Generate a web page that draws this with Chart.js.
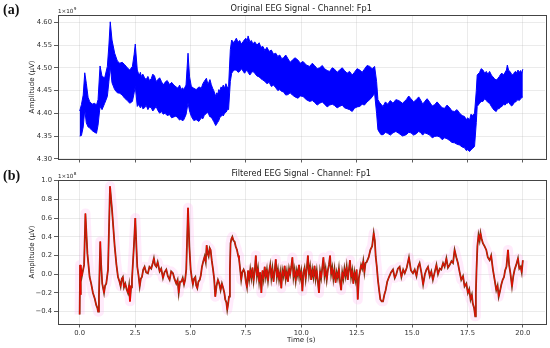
<!DOCTYPE html>
<html>
<head>
<meta charset="utf-8">
<script src="https://cdn.jsdelivr.net/npm/chart.js@4.4.0/dist/chart.umd.min.js"></script>
<style>
  body { margin:0; background:#fff; width:550px; height:348px; overflow:hidden; position:relative; }
  canvas { position:absolute; left:0; }
  .tag { position:absolute; left:3px; font-family:"Liberation Serif"; font-weight:bold; font-size:14px; line-height:14px; color:#111; }
</style>
</head>
<body>
<canvas id="rawChart" width="550" height="170" style="top:0"></canvas>
<canvas id="filtChart" width="550" height="188" style="top:160px"></canvas>
<div class="tag" style="top:3px">(a)</div>
<div class="tag" style="top:169px">(b)</div>
<script>
// shared time ticks
const xTicks = [0, 2.5, 5, 7.5, 10, 12.5, 15, 17.5, 20];
const rawYTicks = [4.30, 4.35, 4.40, 4.45, 4.50, 4.55, 4.60];
const filtYTicks = [-0.4, -0.2, 0.0, 0.2, 0.4, 0.6, 0.8, 1.0];

// original signal, upper / lower envelope (x1e9 uV)
const tRaw = [0.00,0.08,0.16,0.23,0.30,0.38,0.45,0.56,0.68,0.76,
  0.83,0.92,1.01,1.13,1.25,1.32,1.38,1.46,1.58,1.70,
  1.81,1.92,2.03,2.15,2.26,2.38,2.46,2.51,2.60,2.65,
  2.70,2.74,2.78,2.85,2.93,3.00,3.08,3.15,3.23,3.30,
  3.38,3.45,3.53,3.61,3.69,3.77,3.85,3.95,4.06,4.15,
  4.25,4.35,4.44,4.51,4.58,4.64,4.70,4.80,4.89,4.96,
  5.04,5.15,5.26,5.38,5.49,5.56,5.62,5.72,5.78,5.83,
  5.88,5.94,6.00,6.05,6.14,6.18,6.23,6.28,6.32,6.38,
  6.43,6.48,6.54,6.60,6.64,6.68,6.72,6.80,6.86,6.96,
  7.07,7.15,7.22,7.30,7.37,7.44,7.50,7.56,7.60,7.68,
  7.75,7.82,7.90,8.00,8.10,8.18,8.27,8.36,8.45,8.55,
  8.65,8.75,8.85,8.94,9.03,9.12,9.20,9.30,9.40,9.50,
  9.60,9.72,9.85,9.96,10.08,10.23,10.38,10.50,10.60,10.72,
  10.83,10.95,11.05,11.17,11.28,11.40,11.50,11.62,11.73,11.85,
  11.95,12.07,12.18,12.30,12.40,12.52,12.64,12.75,12.85,12.97,
  13.09,13.20,13.31,13.40,13.46,13.53,13.60,13.69,13.80,13.90,
  14.02,14.14,14.27,14.40,14.57,14.74,14.85,14.95,15.07,15.19,
  15.30,15.40,15.48,15.57,15.68,15.80,15.91,16.02,16.13,16.25,
  16.36,16.47,16.58,16.70,16.80,16.92,17.03,17.15,17.26,17.37,
  17.45,17.50,17.60,17.66,17.72,17.82,17.90,17.94,18.05,18.12,
  18.20,18.28,18.35,18.42,18.50,18.58,18.65,18.72,18.80,18.86,
  18.93,19.00,19.06,19.13,19.20,19.26,19.30,19.36,19.42,19.49,
  19.56,19.62,19.68,19.73,19.78,19.84,19.90,19.95,20.00];
const rawHi = [4.405,4.419,4.440,4.489,4.466,4.435,4.426,4.420,4.422,4.418,
  4.430,4.504,4.481,4.478,4.503,4.550,4.601,4.561,4.532,4.515,
  4.510,4.512,4.507,4.500,4.495,4.503,4.530,4.552,4.495,4.488,
  4.484,4.490,4.481,4.486,4.478,4.474,4.481,4.472,4.476,4.486,
  4.482,4.470,4.474,4.478,4.470,4.462,4.468,4.472,4.463,4.468,
  4.462,4.458,4.455,4.462,4.452,4.456,4.452,4.462,4.532,4.480,
  4.459,4.455,4.452,4.458,4.455,4.465,4.470,4.477,4.465,4.468,
  4.474,4.463,4.455,4.450,4.437,4.445,4.442,4.452,4.448,4.458,
  4.455,4.462,4.455,4.465,4.460,4.455,4.459,4.540,4.561,4.555,
  4.565,4.556,4.560,4.552,4.557,4.562,4.565,4.558,4.570,4.557,
  4.560,4.552,4.557,4.550,4.555,4.545,4.547,4.538,4.545,4.536,
  4.539,4.530,4.532,4.525,4.528,4.520,4.522,4.528,4.520,4.512,
  4.517,4.522,4.517,4.510,4.514,4.506,4.503,4.510,4.505,4.498,
  4.500,4.505,4.498,4.494,4.492,4.500,4.497,4.490,4.495,4.500,
  4.494,4.488,4.492,4.484,4.490,4.498,4.495,4.490,4.497,4.505,
  4.503,4.498,4.503,4.470,4.430,4.424,4.420,4.415,4.425,4.420,
  4.428,4.422,4.430,4.428,4.422,4.430,4.438,4.432,4.425,4.430,
  4.436,4.428,4.420,4.426,4.432,4.424,4.416,4.419,4.425,4.418,
  4.412,4.411,4.418,4.412,4.405,4.404,4.408,4.400,4.395,4.393,
  4.385,4.390,4.386,4.398,4.395,4.400,4.450,4.484,4.490,4.498,
  4.495,4.488,4.492,4.486,4.492,4.484,4.480,4.476,4.473,4.476,
  4.480,4.486,4.488,4.484,4.490,4.495,4.506,4.494,4.492,4.486,
  4.484,4.490,4.492,4.488,4.495,4.490,4.494,4.488,4.497];
const rawLo = [4.350,4.351,4.370,4.408,4.379,4.370,4.368,4.362,4.358,4.356,
  4.374,4.415,4.408,4.422,4.437,4.470,4.503,4.467,4.452,4.445,
  4.444,4.440,4.433,4.428,4.422,4.426,4.445,4.459,4.415,4.420,
  4.415,4.412,4.418,4.410,4.412,4.418,4.408,4.414,4.412,4.405,
  4.410,4.415,4.406,4.400,4.404,4.398,4.400,4.395,4.397,4.390,
  4.392,4.394,4.389,4.385,4.388,4.383,4.386,4.397,4.422,4.405,
  4.393,4.384,4.386,4.382,4.390,4.388,4.395,4.400,4.402,4.397,
  4.392,4.392,4.386,4.382,4.373,4.376,4.380,4.384,4.390,4.393,
  4.397,4.394,4.400,4.402,4.405,4.410,4.408,4.470,4.488,4.495,
  4.495,4.490,4.492,4.498,4.493,4.488,4.492,4.495,4.490,4.484,
  4.489,4.492,4.488,4.482,4.480,4.476,4.473,4.470,4.465,4.468,
  4.459,4.462,4.456,4.450,4.452,4.448,4.447,4.440,4.441,4.445,
  4.440,4.436,4.433,4.438,4.437,4.430,4.426,4.428,4.424,4.418,
  4.422,4.425,4.420,4.414,4.418,4.420,4.417,4.412,4.415,4.418,
  4.412,4.410,4.408,4.404,4.411,4.414,4.415,4.420,4.418,4.425,
  4.430,4.436,4.444,4.400,4.364,4.358,4.353,4.353,4.358,4.356,
  4.352,4.357,4.360,4.356,4.350,4.353,4.358,4.357,4.352,4.355,
  4.360,4.357,4.352,4.357,4.355,4.352,4.346,4.349,4.350,4.348,
  4.342,4.346,4.344,4.340,4.336,4.335,4.332,4.330,4.326,4.324,
  4.318,4.320,4.316,4.320,4.322,4.327,4.380,4.415,4.422,4.426,
  4.426,4.432,4.428,4.424,4.422,4.415,4.410,4.406,4.404,4.410,
  4.410,4.414,4.415,4.420,4.418,4.422,4.422,4.424,4.420,4.416,
  4.419,4.424,4.425,4.428,4.430,4.428,4.432,4.434,4.436];

// filtered signal trace (x1e8 uV)
const tFilt = [0.00,0.02,0.04,0.06,0.10,0.15,0.20,0.26,0.35,0.45,
  0.52,0.60,0.68,0.75,0.80,0.83,0.87,0.93,0.97,1.02,
  1.10,1.15,1.20,1.28,1.37,1.46,1.58,1.66,1.73,1.80,
  1.85,1.90,1.95,2.00,2.06,2.12,2.18,2.23,2.27,2.32,
  2.36,2.45,2.51,2.56,2.60,2.66,2.71,2.76,2.81,2.87,
  2.93,3.00,3.08,3.15,3.23,3.30,3.35,3.40,3.46,3.52,
  3.61,3.68,3.76,3.83,3.91,3.98,4.06,4.13,4.21,4.28,
  4.36,4.42,4.47,4.53,4.59,4.65,4.71,4.76,4.81,4.89,
  4.95,5.01,5.06,5.11,5.16,5.22,5.26,5.31,5.36,5.42,
  5.47,5.52,5.58,5.64,5.69,5.73,5.78,5.82,5.87,5.91,
  5.96,6.02,6.07,6.12,6.18,6.24,6.30,6.36,6.42,6.48,
  6.53,6.57,6.62,6.66,6.70,6.74,6.78,6.81,6.85,6.89,
  6.94,6.99,7.04,7.10,7.15,7.19,7.24,7.29,7.34,7.40,
  7.45,7.50,7.55,7.60,7.65,7.70,7.75,7.80,7.85,7.90,
  7.95,8.00,8.05,8.10,8.15,8.20,8.25,8.30,8.35,8.40,
  8.45,8.50,8.55,8.60,8.65,8.70,8.75,8.80,8.85,8.90,
  8.95,9.00,9.05,9.10,9.15,9.20,9.25,9.30,9.35,9.40,
  9.45,9.50,9.55,9.60,9.65,9.70,9.75,9.80,9.85,9.90,
  9.95,10.00,10.05,10.10,10.15,10.20,10.25,10.30,10.35,10.40,
  10.45,10.50,10.55,10.60,10.65,10.70,10.75,10.80,10.85,10.90,
  10.95,11.00,11.05,11.10,11.15,11.20,11.25,11.30,11.35,11.40,
  11.45,11.50,11.55,11.60,11.65,11.70,11.75,11.80,11.85,11.90,
  11.95,12.00,12.05,12.10,12.15,12.20,12.25,12.30,12.35,12.40,
  12.45,12.50,12.55,12.60,12.65,12.70,12.75,12.80,12.85,12.90,
  12.95,13.04,13.12,13.20,13.27,13.32,13.36,13.41,13.46,13.52,
  13.57,13.63,13.69,13.75,13.81,13.88,13.96,14.05,14.14,14.22,
  14.29,14.36,14.44,14.52,14.60,14.67,14.76,14.86,14.95,15.04,
  15.12,15.20,15.27,15.34,15.42,15.50,15.58,15.65,15.72,15.80,
  15.87,15.94,16.02,16.10,16.17,16.25,16.32,16.40,16.47,16.55,
  16.62,16.70,16.78,16.85,16.92,17.00,17.07,17.15,17.22,17.30,
  17.37,17.45,17.52,17.58,17.64,17.70,17.74,17.80,17.85,17.88,
  17.91,17.95,18.00,18.05,18.09,18.14,18.20,18.27,18.35,18.42,
  18.50,18.57,18.65,18.72,18.80,18.86,18.91,18.97,19.03,19.09,
  19.15,19.20,19.26,19.33,19.38,19.44,19.51,19.57,19.63,19.70,
  19.78,19.84,19.90,19.95,20.00];
const filtVal = [-0.43,0.10,-0.22,0.08,-0.02,0.04,0.10,0.65,0.22,-0.03,
  -0.10,-0.20,-0.26,-0.33,-0.36,-0.40,-0.24,0.35,0.10,-0.10,
  -0.20,-0.12,-0.10,0.05,0.94,0.69,0.30,0.10,-0.03,-0.08,
  -0.13,-0.05,-0.03,-0.14,-0.10,-0.16,-0.20,-0.12,-0.29,-0.14,
  -0.06,0.31,0.60,0.30,0.08,-0.02,-0.13,-0.05,-0.03,0.05,
  0.08,0.02,0.01,0.08,0.06,0.12,0.17,0.10,0.08,0.13,
  0.03,0.06,-0.04,0.02,0.05,-0.02,-0.06,0.03,0.01,-0.05,
  -0.10,-0.06,-0.20,-0.08,-0.08,-0.04,-0.11,-0.06,0.05,0.71,
  0.30,0.05,-0.04,-0.11,-0.05,-0.03,-0.12,-0.15,-0.08,-0.06,
  -0.01,0.08,0.14,0.19,0.13,0.31,0.22,0.19,0.28,0.26,
  0.15,0.05,-0.05,-0.24,-0.12,-0.06,-0.10,-0.17,-0.10,-0.15,
  -0.20,-0.27,-0.30,-0.38,-0.32,-0.24,0.05,0.33,0.38,0.40,
  0.36,0.35,0.30,0.26,0.20,0.17,0.06,-0.06,0.02,0.05,
  0.02,-0.08,-0.14,0.04,-0.06,0.05,-0.04,0.07,-0.07,0.03,
  0.20,-0.02,0.06,-0.08,0.02,-0.20,0.04,-0.05,0.08,-0.03,
  0.05,-0.07,0.03,0.10,-0.04,0.06,-0.08,0.04,0.16,-0.03,
  0.05,-0.06,0.02,-0.15,0.04,-0.02,0.09,-0.05,0.03,-0.08,
  0.06,0.00,0.08,0.18,-0.03,0.05,-0.07,0.04,-0.02,0.10,
  -0.04,0.03,-0.18,0.02,0.07,-0.05,0.06,0.20,0.00,0.08,
  -0.06,0.05,-0.03,0.09,-0.05,0.04,-0.08,-0.20,0.03,-0.04,
  0.07,0.18,-0.02,0.06,-0.06,0.04,0.10,0.20,0.00,0.07,
  -0.05,0.05,-0.09,0.02,-0.04,0.06,-0.08,-0.17,0.02,-0.05,
  0.06,-0.02,0.08,-0.06,0.05,0.15,-0.03,0.04,-0.10,0.02,
  -0.06,0.05,-0.27,-0.04,0.03,0.10,0.06,0.14,0.02,0.12,
  0.13,0.18,0.26,0.30,0.44,0.36,0.19,0.08,-0.06,-0.18,
  -0.27,-0.29,-0.29,-0.22,-0.17,-0.08,-0.03,0.02,0.05,-0.04,
  0.00,0.06,0.08,-0.03,0.05,0.01,0.07,0.18,0.04,0.01,
  0.05,-0.02,0.08,0.12,0.02,-0.11,0.00,0.05,0.08,-0.02,
  0.03,-0.06,0.02,0.10,0.00,0.06,0.05,0.12,0.08,0.17,
  0.07,0.10,0.14,0.12,0.26,0.18,0.12,0.02,-0.06,-0.02,
  -0.13,-0.10,-0.20,-0.16,-0.27,-0.22,-0.31,-0.36,-0.45,-0.20,
  0.05,0.30,0.42,0.36,0.44,0.38,0.33,0.30,0.26,0.18,
  0.15,0.20,0.05,-0.05,-0.17,-0.12,-0.24,-0.18,-0.11,-0.06,
  -0.03,0.04,0.08,0.26,0.10,0.01,-0.13,-0.02,0.05,0.10,
  0.17,0.06,0.08,0.02,0.15];

const FONT = 'DejaVu Sans';
const pts = (xs, ys) => xs.map((x, i) => ({ x, y: ys[i] }));

// frame, panel title, exponent and axis titles
const panelText = {
  id: 'panelText',
  afterDraw(chart, args, opts) {
    const { ctx, chartArea: a } = chart;
    ctx.save();
    ctx.strokeStyle = '#444';
    ctx.lineWidth = 1;
    ctx.strokeRect(Math.round(a.left) + 0.5, Math.round(a.top) + 0.5, Math.round(a.right - a.left), Math.round(a.bottom - a.top));
    ctx.fillStyle = '#222';
    ctx.font = `8.2px "${FONT}"`;
    ctx.textAlign = 'center';
    ctx.textBaseline = 'alphabetic';
    ctx.fillText(opts.title, (a.left + a.right) / 2, a.top - 4);
    // offset text like matplotlib's 1e9
    ctx.textAlign = 'left';
    ctx.font = `5.6px "${FONT}"`;
    ctx.fillText('1×10', a.left + 0.5, a.top - 2);
    const w = ctx.measureText('1×10').width;
    ctx.font = `4.2px "${FONT}"`;
    ctx.fillText(opts.exp, a.left + 0.5 + w + 0.3, a.top - 4.7);
    if (opts.xTitle) {
      ctx.font = `7px "${FONT}"`;
      ctx.textAlign = 'center';
      ctx.textBaseline = 'middle';
      ctx.fillText(opts.xTitle, (a.left + a.right) / 2, a.bottom + 16);
    }
    ctx.translate(32, (a.top + a.bottom) / 2);
    ctx.rotate(-Math.PI / 2);
    ctx.font = `7px "${FONT}"`;
    ctx.textAlign = 'center';
    ctx.textBaseline = 'middle';
    ctx.fillText('Amplitude (μV)', 0, 0);
    ctx.restore();
  }
};

function axisX(showLabels, height) {
  return {
    type: 'linear', min: -1, max: 21,
    afterBuildTicks: s => { s.ticks = xTicks.map(v => ({ value: v })); },
    afterFit: s => { s.height = height; },
    grid: { color: 'rgba(170,170,170,0.3)', lineWidth: 0.8, tickColor: '#333', tickLength: 3.5 },
    border: { display: false },
    ticks: { display: showLabels, color: '#333', font: { size: 6.8, family: FONT }, padding: 1.5, maxRotation: 0,
      callback: v => Number(v).toFixed(1) }
  };
}

function axisY(min, max, ticks, digits) {
  return {
    type: 'linear', min, max,
    afterBuildTicks: s => { s.ticks = ticks.map(v => ({ value: v })); },
    afterFit: s => { s.width = 57.5; },
    grid: { color: 'rgba(170,170,170,0.3)', lineWidth: 0.8, tickColor: '#333', tickLength: 3.5 },
    border: { display: false },
    ticks: { color: '#333', font: { size: 6.8, family: FONT }, padding: 2,
      callback: v => Number(v).toFixed(digits).replace('-', '\u2212') }
  };
}

const common = {
  responsive: false,
  animation: false,
  devicePixelRatio: 1,
  events: [],
  plugins: { legend: { display: false }, tooltip: { enabled: false } },
  elements: { point: { radius: 0 }, line: { tension: 0 } }
};

new Chart(document.getElementById('rawChart'), {
  type: 'line',
  data: {
    datasets: [
      { data: pts(tRaw, rawLo), borderColor: '#0000ff', borderWidth: 1, fill: false },
      { data: pts(tRaw, rawHi), borderColor: '#0000ff', borderWidth: 1, backgroundColor: '#0000ff', fill: '-1' }
    ]
  },
  options: Object.assign({}, common, {
    layout: { padding: { top: 15, right: 5, left: 0, bottom: 0 } },
    scales: { x: axisX(false, 11), y: axisY(4.2995, 4.616, rawYTicks, 2) },
    plugins: Object.assign({}, common.plugins, {
      panelText: { title: 'Original EEG Signal - Channel: Fp1', exp: '9' }
    })
  }),
  plugins: [panelText]
});

new Chart(document.getElementById('filtChart'), {
  type: 'line',
  data: {
    datasets: [
      { data: pts(tFilt, filtVal), borderColor: 'rgba(255,175,240,0.25)', borderWidth: 10, borderJoinStyle: 'round', fill: false, order: 3 },
      { data: pts(tFilt, filtVal), borderColor: '#7a3a12', borderWidth: 1.8, fill: false, order: 2 },
      { data: pts(tFilt, filtVal), borderColor: '#ff0000', borderWidth: 0.8, fill: false, order: 1 }
    ]
  },
  options: Object.assign({}, common, {
    layout: { padding: { top: 20, right: 5, left: 0, bottom: 0 } },
    scales: { x: axisX(true, 24), y: axisY(-0.532, 1.0075, filtYTicks, 1) },
    plugins: Object.assign({}, common.plugins, {
      panelText: { title: 'Filtered EEG Signal - Channel: Fp1', exp: '8', xTitle: 'Time (s)' }
    })
  }),
  plugins: [panelText]
});
</script>
</body>
</html>
